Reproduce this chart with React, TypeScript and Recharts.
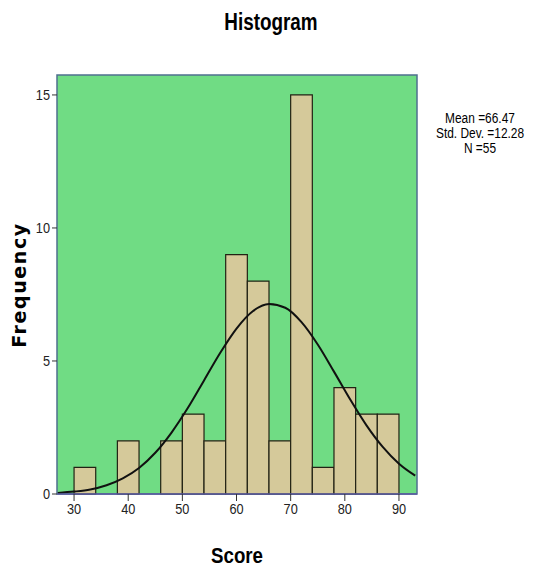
import React from 'react';
import {
  ComposedChart, Line, XAxis, YAxis, ReferenceArea,
} from 'recharts';

// histogram bins (lower edge, width 4)
const binStarts = [30, 34, 38, 42, 46, 50, 54, 58, 62, 66, 70, 74, 78, 82, 86];
const binCounts = [1, 0, 2, 0, 2, 3, 2, 9, 8, 2, 15, 1, 4, 3, 3];
const binWidth = 4;

// normal curve
const curveX = [27, 30, 33, 36, 39, 42, 45, 48, 51, 54, 57, 60, 63, 66, 69, 72, 75, 78, 81, 84, 87, 90, 93];
const curveY = [0.04, 0.09, 0.17, 0.33, 0.59, 0.98, 1.55, 2.31, 3.23, 4.27, 5.31, 6.22, 6.87, 7.14, 7.0, 6.46, 5.62, 4.6, 3.55, 2.58, 1.77, 1.14, 0.69];

const xTicks = [30, 40, 50, 60, 70, 80, 90];
const yTicks = [0, 5, 10, 15];
const statLines = ['Mean =66.47', 'Std. Dev. =12.28', 'N =55'];

const curveData = curveX.map((x, i) => ({ x, y: curveY[i] }));

const narrow = '"Liberation Sans Narrow", "Arial Narrow", "Liberation Sans", Arial, sans-serif';

const NarrowTick = (props: any) => {
  const { x, y, payload, textAnchor, dy } = props;
  return (
    <g transform={`translate(${x},${y})`}>
      <text
        transform="scale(0.85,1)" textAnchor={textAnchor} dy={dy}
        fill="#222" fontSize={15} fontFamily={narrow}
        dominantBaseline={textAnchor === 'end' ? 'central' : 'hanging'}
      >
        {payload.value}
      </text>
    </g>
  );
};

const App: React.FC = () => {
  return (
    <div style={{ position: 'absolute', left: 0, top: 0, width: 535, height: 568, background: '#fff' }}>
      <div style={{
        position: 'absolute', left: 271, top: 9, transform: 'translateX(-50%) scaleX(0.82)',
        fontFamily: narrow, fontWeight: 'bold', fontSize: 23, whiteSpace: 'nowrap',
      }}>
        Histogram
      </div>
      <ComposedChart
        width={535}
        height={568}
        data={curveData}
        margin={{ top: 75, right: 118, bottom: 44, left: 17 }}
      >
        <ReferenceArea
          x1={26.85} x2={93.33} y1={0} y2={15.75}
          fill="#70dc84" fillOpacity={1} stroke="#4f6f8f" strokeWidth={1.5} ifOverflow="extendDomain"
        />
        {binStarts.map((s, i) => (binCounts[i] > 0 ? (
          <ReferenceArea
            key={s}
            x1={s} x2={s + binWidth} y1={0} y2={binCounts[i]}
            fill="#d5c99a" fillOpacity={1} stroke="#222214" strokeWidth={1.2}
          />
        ) : null))}
        <XAxis
          dataKey="x" type="number" domain={[26.85, 93.33]} ticks={xTicks}
          allowDataOverflow height={30}
          axisLine={{ stroke: '#5a5aa0', strokeWidth: 1.5 }}
          tickLine={{ stroke: '#333' }} tickSize={7}
          tick={<NarrowTick />}
        />
        <YAxis
          type="number" domain={[0, 15.75]} ticks={yTicks} allowDataOverflow width={40}
          axisLine={false} tickLine={{ stroke: '#333' }} tickSize={5}
          tick={<NarrowTick />}
        />
        <Line
          dataKey="y" type="monotone" stroke="#111" strokeWidth={2}
          dot={false} isAnimationActive={false}
        />
      </ComposedChart>
      <div style={{
        position: 'absolute', left: 19, top: 285, transform: 'translate(-50%, -50%) rotate(-90deg)',
        fontFamily: '"DejaVu Sans", Verdana, sans-serif', fontWeight: 'bold', fontSize: 19,
        letterSpacing: 1.6, whiteSpace: 'nowrap',
      }}>
        Frequency
      </div>
      <div style={{
        position: 'absolute', left: 237, top: 543, transform: 'translateX(-50%) scaleX(0.85)',
        fontFamily: narrow, fontWeight: 'bold', fontSize: 22, whiteSpace: 'nowrap',
      }}>
        Score
      </div>
      <div style={{
        position: 'absolute', left: 480, top: 111, transform: 'translateX(-50%) scaleX(0.85)',
        fontFamily: narrow, fontSize: 14, lineHeight: '15px', textAlign: 'center', whiteSpace: 'nowrap',
      }}>
        {statLines.map((t) => <div key={t}>{t}</div>)}
      </div>
    </div>
  );
};

export default App;
